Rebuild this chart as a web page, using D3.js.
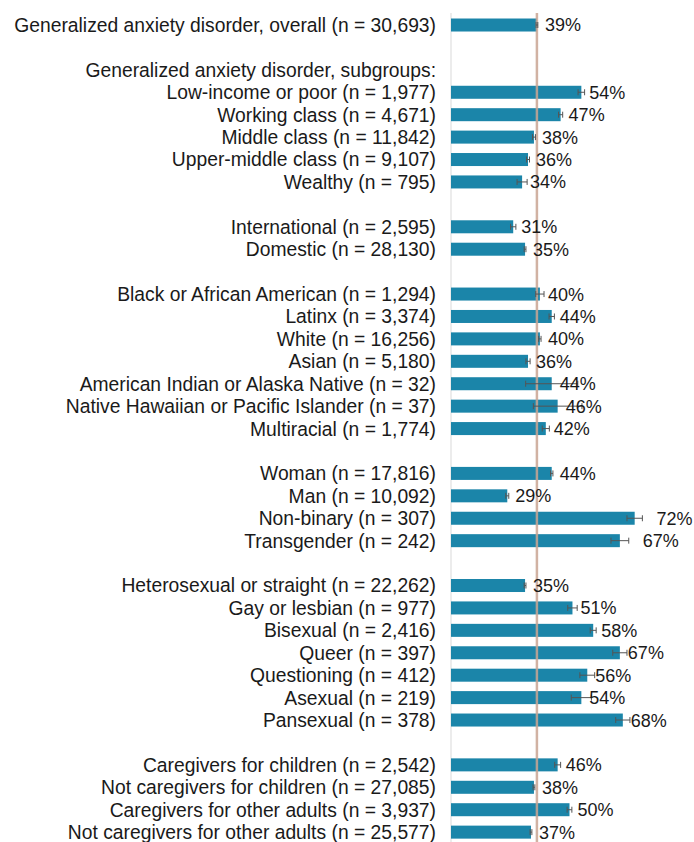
<!DOCTYPE html>
<html>
<head>
<meta charset="utf-8">
<script src="https://cdn.jsdelivr.net/npm/d3@7"></script>
<style>
  body { margin: 0; background: #fff; }
  svg { display: block; font-family: "Liberation Sans", Arial, sans-serif; }
</style>
</head>
<body>
<svg></svg>
<script>
// set data ("" = empty spacer row, null value = no bar)

const categories = [
  "Generalized anxiety disorder, overall (n = 30,693)",
  "",
  "Generalized anxiety disorder, subgroups:",
  "Low-income or poor (n = 1,977)",
  "Working class (n = 4,671)",
  "Middle class (n = 11,842)",
  "Upper-middle class (n = 9,107)",
  "Wealthy (n = 795)",
  "",
  "International (n = 2,595)",
  "Domestic (n = 28,130)",
  "",
  "Black or African American (n = 1,294)",
  "Latinx (n = 3,374)",
  "White (n = 16,256)",
  "Asian (n = 5,180)",
  "American Indian or Alaska Native (n = 32)",
  "Native Hawaiian or Pacific Islander (n = 37)",
  "Multiracial (n = 1,774)",
  "",
  "Woman (n = 17,816)",
  "Man (n = 10,092)",
  "Non-binary (n = 307)",
  "Transgender (n = 242)",
  "",
  "Heterosexual or straight (n = 22,262)",
  "Gay or lesbian (n = 977)",
  "Bisexual (n = 2,416)",
  "Queer (n = 397)",
  "Questioning (n = 412)",
  "Asexual (n = 219)",
  "Pansexual (n = 378)",
  "",
  "Caregivers for children (n = 2,542)",
  "Not caregivers for children (n = 27,085)",
  "Caregivers for other adults (n = 3,937)",
  "Not caregivers for other adults (n = 25,577)"
];

const values = [
  39, null, null,
  54, 47, 38, 36, 34, null,
  31, 35, null,
  40, 44, 40, 36, 44, 46, 42, null,
  44, 29, 72, 67, null,
  35, 51, 58, 67, 56, 54, 68, null,
  46, 38, 50, 37
];

// error bar half-widths (percentage points)
const errors = [
  0.3, null, null,
  1.1, 0.7, 0.5, 0.5, 1.7, null,
  0.9, 0.3, null,
  1.4, 0.9, 0.4, 0.7, 8.8, 8.2, 1.2, null,
  0.4, 0.5, 2.6, 3.0, null,
  0.3, 1.6, 1.0, 2.4, 2.5, 3.4, 2.4, null,
  1.0, 0.3, 0.8, 0.3
];

const overall = 39;

const rows = categories.map((c, i) => ({ i: i, label: c, value: values[i], err: errors[i] }));
const bars = rows.filter(d => d.value != null);

// dimensions

const width = 694, height = 842;

const svg = d3.select("svg")
              .attr("width", width)
              .attr("height", height);

// scales

const x = d3.scaleLinear()
            .domain([10, 90])
            .range([451, 688]);

const y = d3.scaleBand()
            .domain(rows.map(d => d.i))
            .range([13.8, 13.8 + rows.length * 22.42])
            .paddingInner(0.42)
            .paddingOuter(0.21);

// axis line on the left of the bars

svg.append("line")
   .attr("x1", x(10)).attr("x2", x(10))
   .attr("y1", 13).attr("y2", height)
   .attr("stroke", "#d9d9d9")
   .attr("stroke-width", 1);

// bars

svg.selectAll(".bar")
   .data(bars)
   .enter()
   .append("rect")
   .attr("class", "bar")
   .attr("x", x(10))
   .attr("y", d => y(d.i))
   .attr("width", d => x(d.value) - x(10))
   .attr("height", y.bandwidth())
   .attr("fill", "#1b85a9");

// overall reference line

svg.append("line")
   .attr("x1", x(overall)).attr("x2", x(overall))
   .attr("y1", 13).attr("y2", height)
   .attr("stroke", "#c9a493")
   .attr("stroke-opacity", 0.85)
   .attr("stroke-width", 2.5);

// error bars

const eb = svg.selectAll(".err")
   .data(bars)
   .enter()
   .append("g")
   .attr("class", "err")
   .attr("stroke", "#555")
   .attr("stroke-width", 1);

eb.append("line")
  .attr("x1", d => x(d.value - d.err))
  .attr("x2", d => x(d.value + d.err))
  .attr("y1", d => y(d.i) + y.bandwidth() / 2)
  .attr("y2", d => y(d.i) + y.bandwidth() / 2);

[-1, 1].forEach(s => {
  eb.append("line")
    .attr("x1", d => x(d.value + s * d.err))
    .attr("x2", d => x(d.value + s * d.err))
    .attr("y1", d => y(d.i) + y.bandwidth() / 2 - 3)
    .attr("y2", d => y(d.i) + y.bandwidth() / 2 + 3);
});

// category labels

svg.selectAll(".cat")
   .data(rows.filter(d => d.label !== ""))
   .enter()
   .append("text")
   .attr("class", "cat")
   .attr("x", 436)
   .attr("y", d => y(d.i) + y.bandwidth() / 2)
   .attr("dy", "0.36em")
   .attr("text-anchor", "end")
   .attr("font-size", 19.3)
   .attr("fill", "#1a1a1a")
   .text(d => d.label);

// value labels (moved clear of wide error bars near the right edge)

svg.selectAll(".label")
   .data(bars)
   .enter()
   .append("text")
   .attr("class", "label")
   .attr("x", d => d.value > 70 || (d.err >= 3 && d.value > 60) ? x(d.value + d.err) + 14 : x(d.value) + 8)
   .attr("y", d => y(d.i) + y.bandwidth() / 2)
   .attr("dy", "0.36em")
   .attr("font-size", 18)
   .attr("fill", "#1a1a1a")
   .text(d => d.value + "%");
</script>
</body>
</html>
